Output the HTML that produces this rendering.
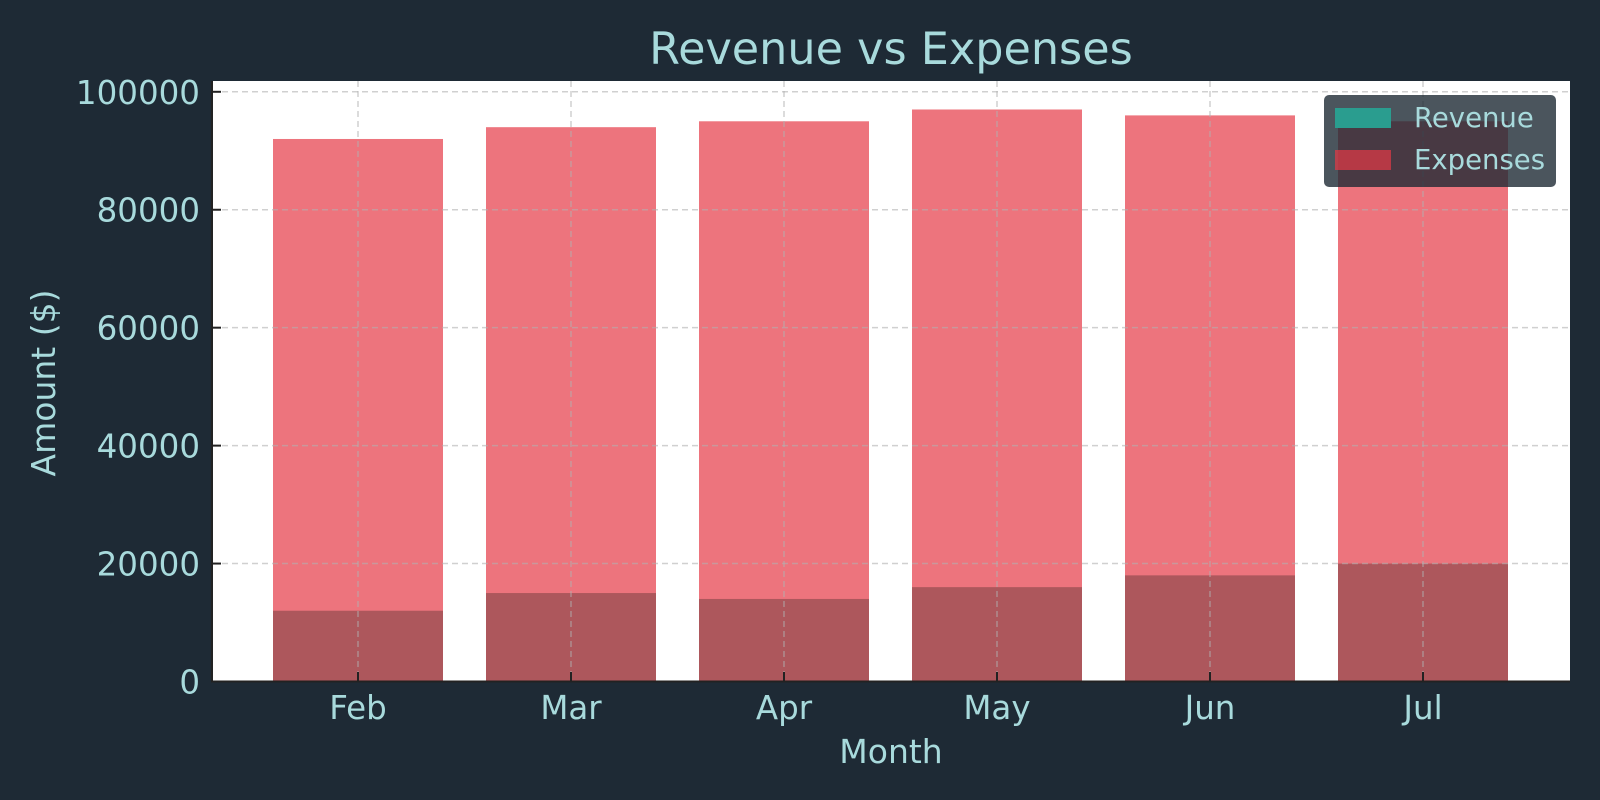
<!DOCTYPE html>
<html><head><meta charset="utf-8"><style>
html,body{margin:0;padding:0;background:#1e2a35;}
svg{display:block;font-family:"DejaVu Sans","Liberation Sans",sans-serif;}
</style></head><body>
<svg id="chart" width="1600" height="800">
<rect x="0" y="0" width="1600" height="800" fill="#1e2a35"/>
<text x="891" y="64" text-anchor="middle" font-size="44.5" fill="#a8dadc">Revenue vs Expenses</text>
<rect x="212" y="81" width="1358" height="600.5" fill="#ffffff"/>
<g id="bars"></g>
<g id="grid"></g>
<line x1="212" y1="81" x2="212" y2="682" stroke="#222" stroke-width="2"/>
<line x1="211" y1="681.5" x2="1570" y2="681.5" stroke="#222" stroke-width="2"/>
<g id="ticks"></g>
<text x="0" y="0" transform="translate(55,383) rotate(-90)" text-anchor="middle" font-size="33" fill="#a8dadc">Amount ($)</text>
<text x="891" y="763" text-anchor="middle" font-size="33" fill="#a8dadc">Month</text>
<g>
<rect x="1324" y="95" width="232" height="92" rx="5" fill="#1e2a35" fill-opacity="0.8"/>
<rect x="1335" y="108" width="56" height="20" fill="#2a9d8f"/>
<text x="1414" y="127" font-size="27.5" fill="#a8dadc">Revenue</text>
<rect x="1335" y="150" width="56" height="20" fill="#e63946" fill-opacity="0.7"/>
<text x="1414" y="169" font-size="27.5" fill="#a8dadc">Expenses</text>
</g>
</svg>
<script>
const categories = ["Feb","Mar","Apr","May","Jun","Jul"];
const revenue = [12000,15000,14000,16000,18000,20000];
const expenses = [92000,94000,95000,97000,96000,95000];
const yTicks = [0,20000,40000,60000,80000,100000];

const NS = "http://www.w3.org/2000/svg";
const y = v => 681.5 - v * (589.7 / 100000);
const xc = i => 358 + i * 213;
const bw = 170;
function mk(tag, attrs, parent){
  const e = document.createElementNS(NS, tag);
  for (const k in attrs) e.setAttribute(k, attrs[k]);
  document.getElementById(parent).appendChild(e);
  return e;
}
yTicks.forEach(t => {
  const g = mk("line",{x1:212,x2:1570,y1:y(t),y2:y(t),stroke:"#b0b0b0","stroke-opacity":0.6,"stroke-width":1.5,"stroke-dasharray":"6,4"},"grid");
  
  
  const tk = mk("line",{x1:212,x2:221,y1:y(t),y2:y(t),stroke:"#222","stroke-width":2},"ticks");
  
  
  const lb = mk("text",{x:200,y:y(t)+12,"text-anchor":"end","font-size":32.5,fill:"#a8dadc"},"ticks");
  lb.textContent = t;
  
  
});
categories.forEach((c,i) => {
  const r = mk("rect",{x:xc(i)-bw/2,y:y(revenue[i]),width:bw,height:y(0)-y(revenue[i]),fill:"#2a9d8f"},"bars");
  
  
  const e = mk("rect",{x:xc(i)-bw/2,y:y(expenses[i]),width:bw,height:y(0)-y(expenses[i]),fill:"#e63946","fill-opacity":0.7},"bars");
  
  
  const g = mk("line",{x1:xc(i),x2:xc(i),y1:81,y2:681,stroke:"#b0b0b0","stroke-opacity":0.6,"stroke-width":1.5,"stroke-dasharray":"6,4"},"grid");
  
  
  const tk = mk("line",{x1:xc(i),x2:xc(i),y1:672,y2:681,stroke:"#222","stroke-width":2},"ticks");
  
  
  const lb = mk("text",{x:xc(i),y:719,"text-anchor":"middle","font-size":32.5,fill:"#a8dadc"},"ticks");
  lb.textContent = c;
  
  
});
</script>
</body></html>
